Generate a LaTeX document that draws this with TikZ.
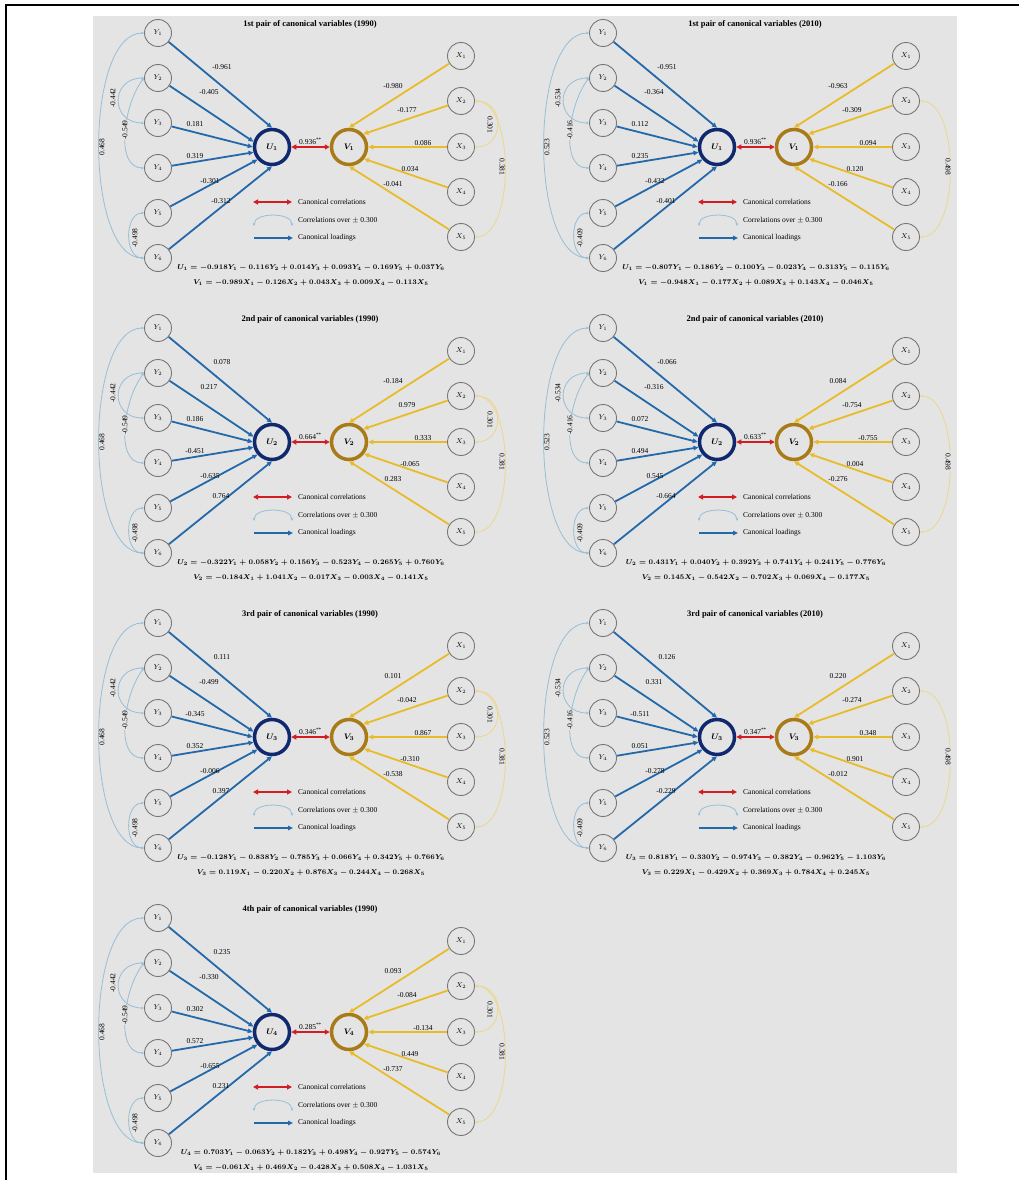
\documentclass[tikz,border=0pt]{standalone}
\usepackage{fontspec}
\setmainfont{Liberation Serif}
\usepackage{amsmath}
\usepackage{tikz}
\usetikzlibrary{arrows.meta, positioning, calc}

\definecolor{bggray}{RGB}{228,228,228}
\definecolor{ublue}{RGB}{16,40,110}
\definecolor{vgold}{RGB}{168,122,24}
\definecolor{loadblue}{RGB}{35,105,170}
\definecolor{loadgold}{RGB}{232,188,40}
\definecolor{corrred}{RGB}{210,30,35}
\definecolor{arcblue}{RGB}{150,190,215}
\definecolor{arcgold}{RGB}{235,215,140}
\definecolor{nodegray}{RGB}{120,120,120}

% one panel: title, index of the pair, canonical correlation
\newcommand{\cvpanel}[3]{%
  \node[ttl] (title) at (310,24) {#1};
  \foreach \i/\yy in {1/33,2/78,3/123,4/168,5/213,6/258}
    \node[obs] (y\i) at (158,\yy) {$Y_{\i}$};
  \foreach \i/\yy in {1/56,2/101,3/147,4/192,5/237}
    \node[obs] (x\i) at (461,\yy) {$X_{\i}$};
  \node[canU] (u) at (272,147) {$\boldsymbol{U_{#2}}$};
  \node[canV] (v) at (349,147) {$\boldsymbol{V_{#2}}$};
  \draw[cancorr] (u) -- (v) node[lbl, midway, above=1pt] (rc) {#3\textsuperscript{**}};
  % legend
  \coordinate (lg1a) at (253,202); \coordinate (lg1b) at (292,202);
  \coordinate (lg2a) at (254,226); \coordinate (lg2b) at (292,226);
  \coordinate (lg3a) at (254,238); \coordinate (lg3b) at (293,238);
  \draw[cancorr] (lg1a) -- (lg1b);
  \draw[yarc] (lg2a) .. controls +(0,-14) and +(0,-14) .. (lg2b);
  \draw[yload] (lg3a) -- (lg3b);
  \node[leg] (lgt1) at (298,202) {Canonical correlations};
  \node[leg] (lgt2) at (298,220) {Correlations over $\pm$ 0.300};
  \node[leg] (lgt3) at (298,238) {Canonical loadings};
}

% loadings of Y_1..Y_6 on U
\newcommand{\yloads}[6]{%
  \draw[yload] (y1) -- (u.north);
  \draw[yload] (y2) -- (u.164);
  \draw[yload] (y3) -- (u.west);
  \draw[yload] (y4) -- (u.196);
  \draw[yload] (y5) -- (u.221);
  \draw[yload] (y6) -- (u.south);
  \node[lbl] (ly1) at (222,67) {#1};
  \node[lbl] (ly2) at (209,92) {#2};
  \node[lbl] (ly3) at (195,124) {#3};
  \node[lbl] (ly4) at (195,156) {#4};
  \node[lbl] (ly5) at (210,181) {#5};
  \node[lbl] (ly6) at (221,201) {#6};
}

% loadings of X_1..X_5 on V
\newcommand{\xloads}[5]{%
  \draw[xload] (x1) -- (v.north);
  \draw[xload] (x2) -- (v.42);
  \draw[xload] (x3) -- (v.east);
  \draw[xload] (x4) -- (v.-38);
  \draw[xload] (x5) -- (v.south);
  \node[lbl] (lx1) at (393,86) {#1};
  \node[lbl] (lx2) at (407,110) {#2};
  \node[lbl] (lx3) at (423,143) {#3};
  \node[lbl] (lx4) at (410,169) {#4};
  \node[lbl] (lx5) at (393,184) {#5};
}

% correlations among the Y's: Y1-Y6, Y2-Y3, Y2-Y4, Y5-Y6
\newcommand{\ycorrs}[4]{%
  \draw[yarc] (y1.west) .. controls +(-60,0) and +(-60,0) .. (y6.west);
  \draw[yarc] (y2.west) .. controls +(-34,0) and +(-34,0) .. (y3.west);
  \draw[yarc] (y2.west) .. controls +(-20,25) and +(-30,0) .. (y4.west);
  \draw[yarc] (y5.west) .. controls +(-20,0) and +(-20,0) .. (y6.west);
  \node[rlbl] (cy1) at (102,147) {#1};
  \node[rlbl] (cy2) at (113,98) {#2};
  \node[rlbl] (cy3) at (125,130) {#3};
  \node[rlbl] (cy4) at (135,238) {#4};
}

% correlations among the X's (1990): X2-X3, X2-X5
\newcommand{\xcorrsA}[2]{%
  \draw[xarc] (x2.east) .. controls +(30,0) and +(30,0) .. (x3.east);
  \draw[xarc] (x2.east) .. controls +(40,0) and +(40,0) .. (x5.east);
  \node[llbl] (cx1) at (490,125) {#1};
  \node[llbl] (cx2) at (502,167) {#2};
}

% correlations among the X's (2010): X2-X5
\newcommand{\xcorrsB}[1]{%
  \draw[xarc] (x2.east) .. controls +(40,0) and +(40,0) .. (x5.east);
  \node[llbl] (cx2) at (503,167) {#1};
}

% canonical functions
\newcommand{\cveqs}[2]{%
  \node[eqn] (equ) at (311,268) {$#1$};
  \node[eqn] (eqv) at (311,283) {$#2$};
}

\begin{document}
\begin{tikzpicture}[
    x=1pt, y=-1pt,
    obs/.style={circle, draw=nodegray, line width=0.9pt, minimum size=27pt, inner sep=0pt, font=\fontsize{7}{8}\selectfont},
    canU/.style={circle, draw=ublue, line width=3.5pt, minimum size=35pt, inner sep=0pt, font=\fontsize{8}{9}\selectfont},
    canV/.style={canU, draw=vgold},
    yload/.style={loadblue, line width=1.8pt, -{Triangle[length=5pt,width=4.5pt]}},
    xload/.style={yload, loadgold},
    cancorr/.style={corrred, line width=2.2pt, {Triangle[length=5pt,width=5pt]}-{Triangle[length=5pt,width=5pt]}},
    yarc/.style={arcblue, line width=0.8pt, {Stealth[length=3pt,width=2.5pt]}-{Stealth[length=3pt,width=2.5pt]}},
    xarc/.style={yarc, arcgold},
    lbl/.style={font=\fontsize{7.5}{8}\selectfont, inner sep=0.5pt, text=black},
    rlbl/.style={lbl, rotate=90, fill=bggray},
    llbl/.style={lbl, rotate=-90, fill=bggray},
    ttl/.style={font=\fontsize{8.5}{9}\selectfont\bfseries},
    leg/.style={font=\fontsize{7.5}{8}\selectfont, anchor=west, inner sep=0pt},
    eqn/.style={font=\fontsize{7.2}{9}\selectfont\boldmath, inner sep=0pt},
]
    \useasboundingbox (0,0) rectangle (1019,1180);
    \fill[white] (0,0) rectangle (1019,1180);
    \fill[bggray] (93,16) rectangle (957,1173);
    \draw[line width=2pt] (6,1181) -- (6,5) -- (1020,5);

    % 1st pair (1990)
    \begin{scope}[name prefix=pa-]
        \cvpanel{1st pair of canonical variables (1990)}{1}{0.936}
        \ycorrs{0.468}{-0.442}{-0.549}{-0.498}
        \xcorrsA{0.301}{0.381}
        \yloads{-0.961}{-0.405}{0.181}{0.319}{-0.301}{-0.312}
        \xloads{-0.980}{-0.177}{0.086}{0.034}{-0.041}
        \cveqs{U_1 = -0.918Y_1 - 0.116Y_2 + 0.014Y_3 + 0.093Y_4 - 0.169Y_5 + 0.037Y_6}
              {V_1 = -0.989X_1 - 0.126X_2 + 0.043X_3 + 0.009X_4 - 0.113X_5}
    \end{scope}

    % 1st pair (2010)
    \begin{scope}[shift={(445,0)}, name prefix=pb-]
        \cvpanel{1st pair of canonical variables (2010)}{1}{0.936}
        \ycorrs{0.523}{-0.534}{-0.416}{-0.409}
        \xcorrsB{0.498}
        \yloads{-0.951}{-0.364}{0.112}{0.235}{-0.432}{-0.401}
        \xloads{-0.963}{-0.309}{0.094}{0.120}{-0.166}
        \cveqs{U_1 = -0.807Y_1 - 0.186Y_2 - 0.100Y_3 - 0.023Y_4 - 0.313Y_5 - 0.115Y_6}
              {V_1 = -0.948X_1 - 0.177X_2 + 0.089X_3 + 0.143X_4 - 0.046X_5}
    \end{scope}

    % 2nd pair (1990)
    \begin{scope}[shift={(0,295)}, name prefix=pc-]
        \cvpanel{2nd pair of canonical variables (1990)}{2}{0.664}
        \ycorrs{0.468}{-0.442}{-0.549}{-0.498}
        \xcorrsA{0.301}{0.381}
        \yloads{0.078}{0.217}{0.186}{-0.451}{-0.635}{0.764}
        \xloads{-0.184}{0.979}{0.333}{-0.065}{0.283}
        \cveqs{U_2 = -0.322Y_1 + 0.058Y_2 + 0.156Y_3 - 0.523Y_4 - 0.265Y_5 + 0.760Y_6}
              {V_2 = -0.184X_1 + 1.041X_2 - 0.017X_3 - 0.003X_4 - 0.141X_5}
    \end{scope}

    % 2nd pair (2010)
    \begin{scope}[shift={(445,295)}, name prefix=pd-]
        \cvpanel{2nd pair of canonical variables (2010)}{2}{0.633}
        \ycorrs{0.523}{-0.534}{-0.416}{-0.409}
        \xcorrsB{0.498}
        \yloads{-0.066}{-0.316}{0.072}{0.494}{0.545}{-0.664}
        \xloads{0.084}{-0.754}{-0.755}{0.004}{-0.276}
        \cveqs{U_2 = 0.431Y_1 + 0.040Y_2 + 0.392Y_3 + 0.741Y_4 + 0.241Y_5 - 0.776Y_6}
              {V_2 = 0.145X_1 - 0.542X_2 - 0.702X_3 + 0.069X_4 - 0.177X_5}
    \end{scope}

    % 3rd pair (1990)
    \begin{scope}[shift={(0,590)}, name prefix=pe-]
        \cvpanel{3rd pair of canonical variables (1990)}{3}{0.346}
        \ycorrs{0.468}{-0.442}{-0.549}{-0.498}
        \xcorrsA{0.301}{0.381}
        \yloads{0.111}{-0.499}{-0.345}{0.352}{-0.006}{0.397}
        \xloads{0.101}{-0.042}{0.867}{-0.310}{-0.538}
        \cveqs{U_3 = -0.128Y_1 - 0.838Y_2 - 0.785Y_3 + 0.066Y_4 + 0.342Y_5 + 0.766Y_6}
              {V_3 = 0.119X_1 - 0.220X_2 + 0.876X_3 - 0.244X_4 - 0.268X_5}
    \end{scope}

    % 3rd pair (2010)
    \begin{scope}[shift={(445,590)}, name prefix=pf-]
        \cvpanel{3rd pair of canonical variables (2010)}{3}{0.347}
        \ycorrs{0.523}{-0.534}{-0.416}{-0.409}
        \xcorrsB{0.498}
        \yloads{0.126}{0.331}{-0.511}{0.051}{-0.278}{-0.229}
        \xloads{0.220}{-0.274}{0.348}{0.901}{-0.012}
        \cveqs{U_3 = 0.818Y_1 - 0.330Y_2 - 0.974Y_3 - 0.382Y_4 - 0.962Y_5 - 1.103Y_6}
              {V_3 = 0.229X_1 - 0.429X_2 + 0.369X_3 + 0.784X_4 + 0.245X_5}
    \end{scope}

    % 4th pair (1990)
    \begin{scope}[shift={(0,885)}, name prefix=pg-]
        \cvpanel{4th pair of canonical variables (1990)}{4}{0.285}
        \ycorrs{0.468}{-0.442}{-0.549}{-0.498}
        \xcorrsA{0.301}{0.381}
        \yloads{0.235}{-0.330}{0.302}{0.572}{-0.655}{0.231}
        \xloads{0.093}{-0.084}{-0.134}{0.449}{-0.737}
        \cveqs{U_4 = 0.703Y_1 - 0.063Y_2 + 0.182Y_3 + 0.498Y_4 - 0.927Y_5 - 0.574Y_6}
              {V_4 = -0.061X_1 + 0.469X_2 - 0.428X_3 + 0.508X_4 - 1.031X_5}
    \end{scope}
\end{tikzpicture}
\end{document}
